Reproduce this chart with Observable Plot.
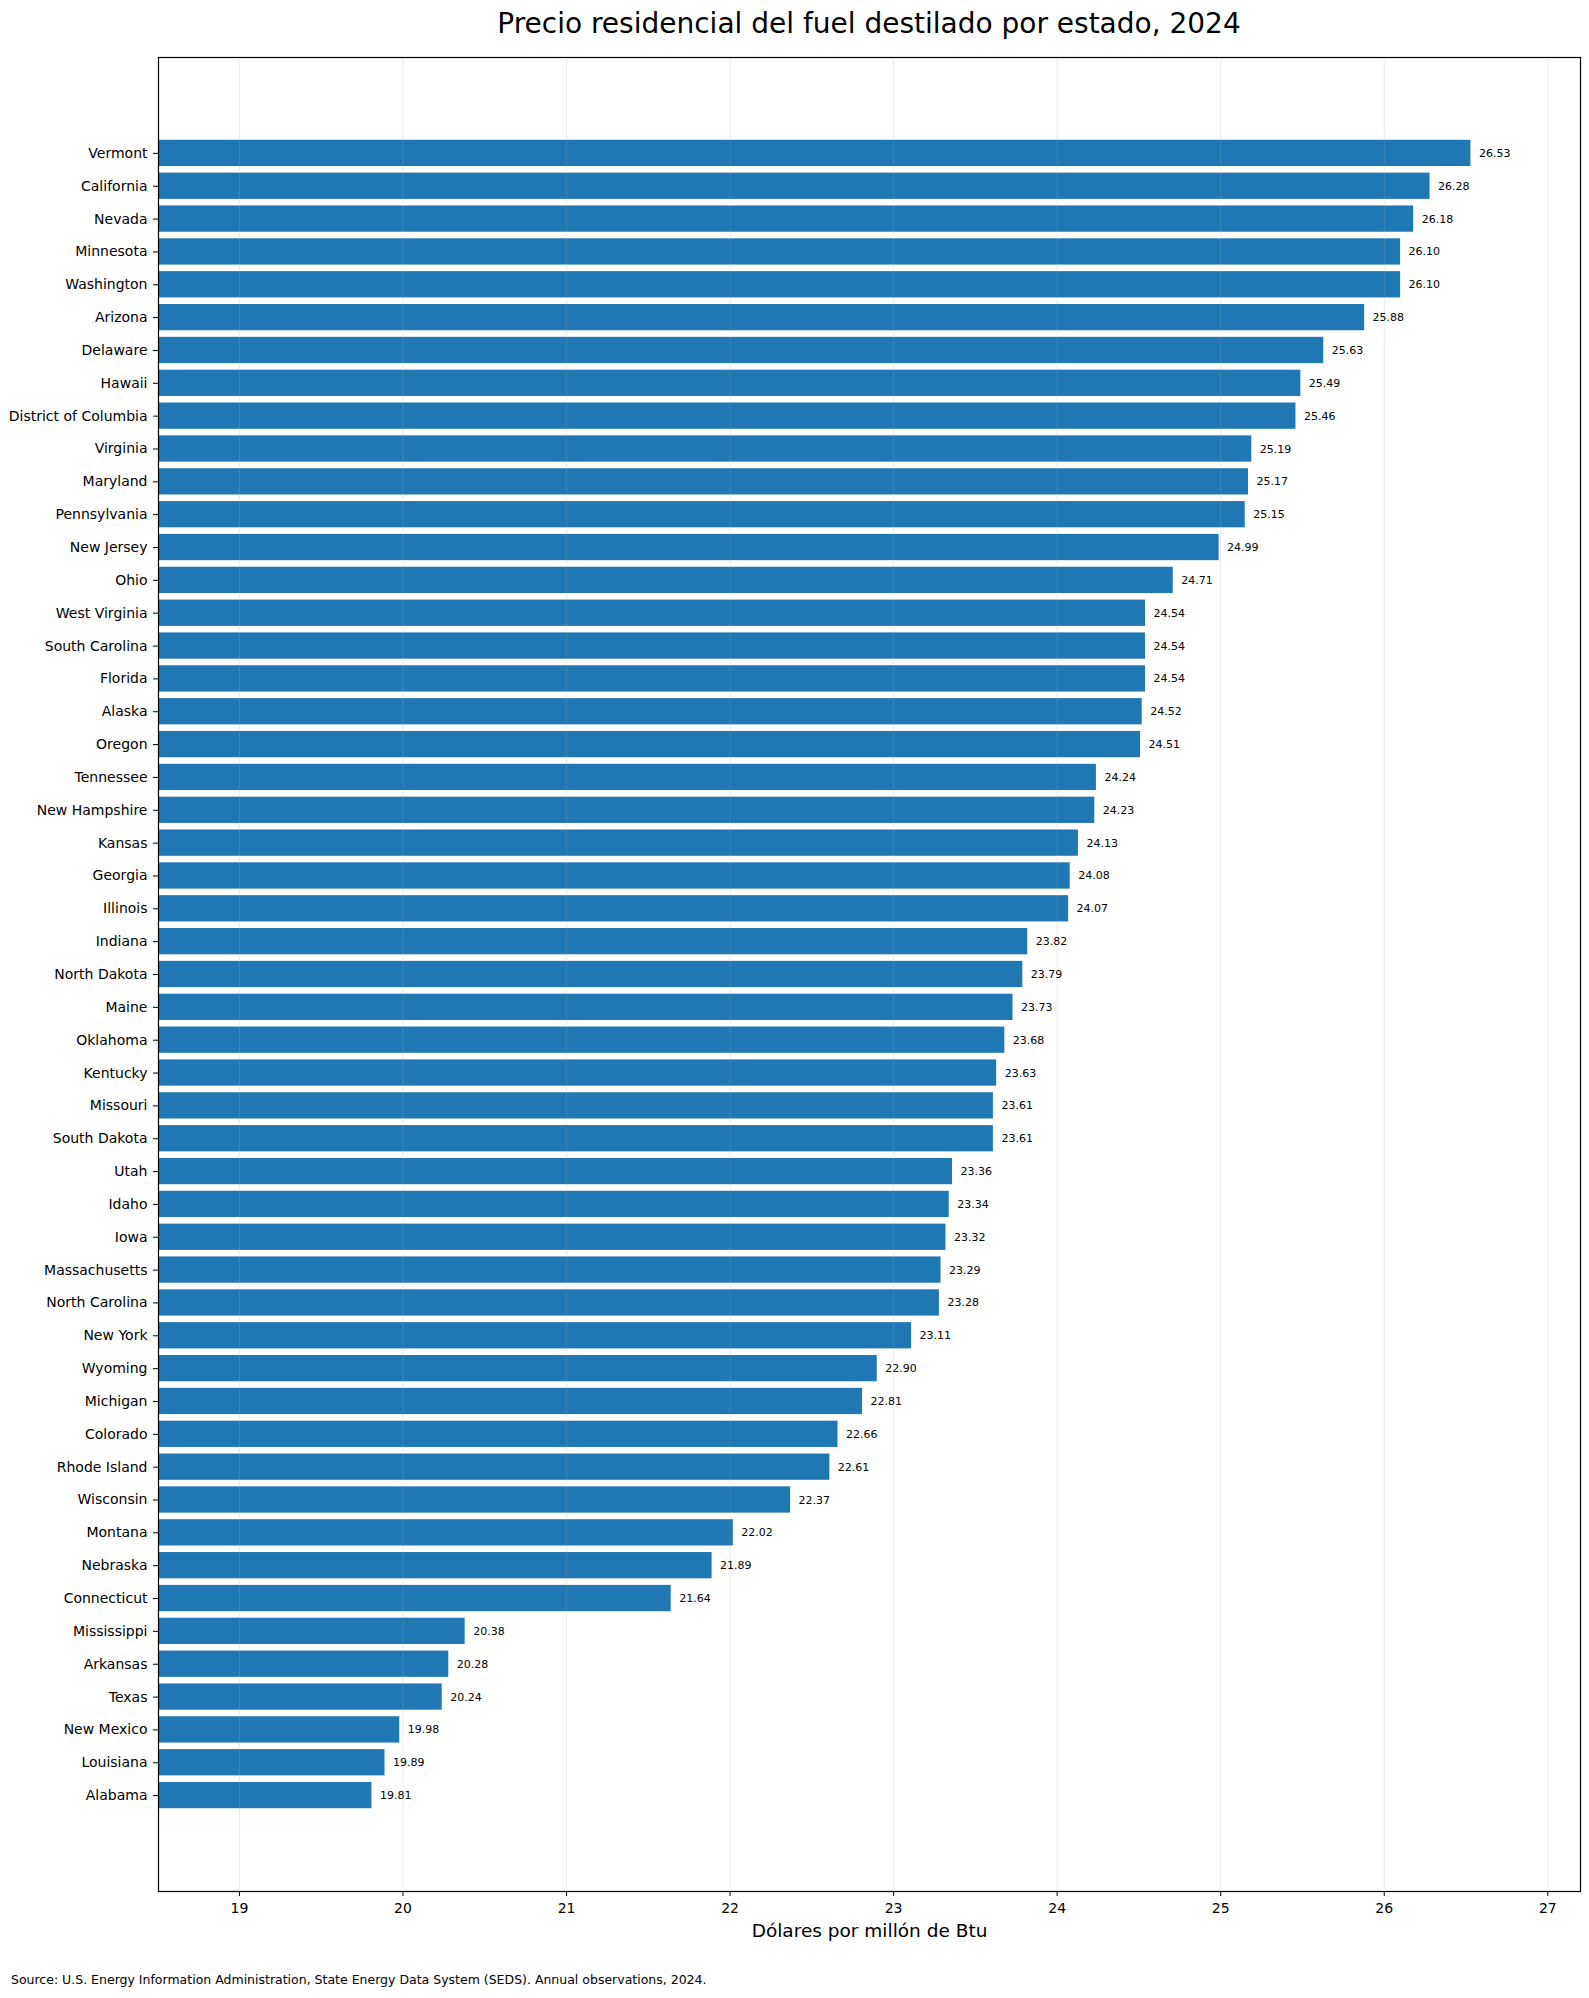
<!DOCTYPE html>
<html>
<head>
<meta charset="utf-8">
<script src="https://cdn.jsdelivr.net/npm/d3@7"></script>
<script src="https://cdn.jsdelivr.net/npm/@observablehq/plot@0.6"></script>
<style>
  html, body { margin: 0; padding: 0; background: #fff; }
  #wrap { position: relative; width: 1589px; height: 1998px; font-family: "DejaVu Sans", sans-serif; }
  #title { position: absolute; left: 158px; width: 1422px; top: 6px; text-align: center; font-size: 28px; line-height: 36px; color: #000; }
  #chart { position: absolute; left: 0; top: 46px; }
  #caption { position: absolute; left: 11px; top: 1972px; font-size: 12.5px; line-height: 16px; color: #000; }
</style>
</head>
<body>
<div id="wrap">
  <div id="title">Precio residencial del fuel destilado por estado, 2024</div>
  <div id="chart"></div>
  <div id="caption">Source: U.S. Energy Information Administration, State Energy Data System (SEDS). Annual observations, 2024.</div>
</div>
<script>
const states = ["Vermont","California","Nevada","Minnesota","Washington","Arizona","Delaware","Hawaii","District of Columbia","Virginia","Maryland","Pennsylvania","New Jersey","Ohio","West Virginia","South Carolina","Florida","Alaska","Oregon","Tennessee","New Hampshire","Kansas","Georgia","Illinois","Indiana","North Dakota","Maine","Oklahoma","Kentucky","Missouri","South Dakota","Utah","Idaho","Iowa","Massachusetts","North Carolina","New York","Wyoming","Michigan","Colorado","Rhode Island","Wisconsin","Montana","Nebraska","Connecticut","Mississippi","Arkansas","Texas","New Mexico","Louisiana","Alabama"];
const prices = [26.53,26.28,26.18,26.10,26.10,25.88,25.63,25.49,25.46,25.19,25.17,25.15,24.99,24.71,24.54,24.54,24.54,24.52,24.51,24.24,24.23,24.13,24.08,24.07,23.82,23.79,23.73,23.68,23.63,23.61,23.61,23.36,23.34,23.32,23.29,23.28,23.11,22.90,22.81,22.66,22.61,22.37,22.02,21.89,21.64,20.38,20.28,20.24,19.98,19.89,19.81];
const xTicks = [19,20,21,22,23,24,25,26,27];
const xLabel = "Dólares por millón de Btu";

const data = states.map((s, i) => ({state: s, price: prices[i]}));

const chart = Plot.plot({
  width: 1589,
  height: 1900,
  marginTop: 11,
  marginBottom: 55,
  marginLeft: 158,
  marginRight: 9,
  style: {fontFamily: "DejaVu Sans, sans-serif", color: "#000", background: "#fff"},
  x: {domain: [18.505, 27.2], ticks: xTicks, label: null},
  y: {domain: states, paddingInner: 0.2, paddingOuter: 2.52, label: null},
  marks: [
    Plot.barX(data, {x: "price", y: "state", fill: "#1f77b4", clip: true}),
    Plot.gridX(xTicks, {stroke: "#b0b0b0", strokeOpacity: 0.3, strokeWidth: 0.8}),
    Plot.text(data, {x: "price", y: "state", text: d => d.price.toFixed(2), textAnchor: "start", dx: 8, fontSize: 11, fill: "#000"}),
    Plot.axisY({tickSize: 5, tickPadding: 6, fontSize: 14, label: null, stroke: "#000"}),
    Plot.axisX({ticks: xTicks, tickSize: 5, tickPadding: 7, fontSize: 14, label: null, stroke: "#000", tickFormat: d => String(d)}),
    Plot.text([xLabel], {frameAnchor: "bottom", dy: 45, fontSize: 18.5, fill: "#000", text: d => d}),
    Plot.frame({stroke: "#000", strokeWidth: 1.2})
  ]
});
document.getElementById("chart").appendChild(chart);
</script>
</body>
</html>
